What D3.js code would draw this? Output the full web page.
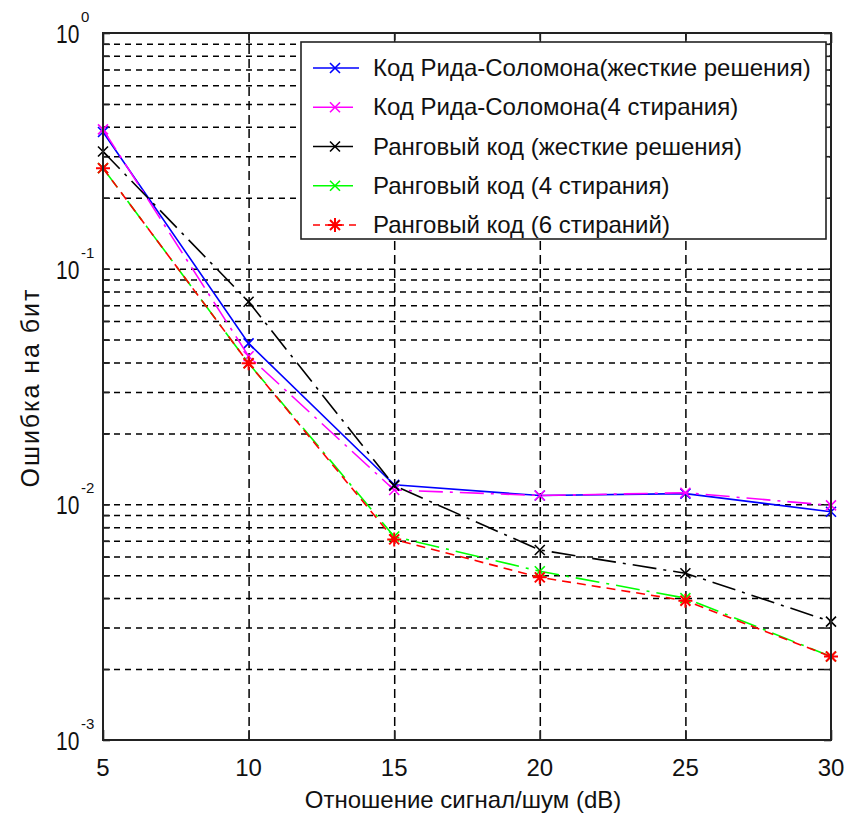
<!DOCTYPE html>
<html>
<head>
<meta charset="utf-8">
<script src="https://cdn.jsdelivr.net/npm/d3@7"></script>
<style>
  html, body { margin: 0; padding: 0; background: #fff; }
  svg { display: block; font-family: "Liberation Sans", Arial, sans-serif; }
</style>
</head>
<body>
<svg id="chart" width="852" height="817"></svg>
<script>
// SNR points (dB)
const snr = [5, 10, 15, 20, 25, 30];

// Bit error rate for each scheme
const rsHard   = [0.380, 0.0482, 0.0121, 0.0109, 0.0111, 0.0093];
const rsErase4 = [0.390, 0.0425, 0.0115, 0.0109, 0.0112, 0.0099];
const rankHard = [0.314, 0.0724, 0.0120, 0.0064, 0.0051, 0.00318];
const rankEr4  = [0.267, 0.0397, 0.0073, 0.0052, 0.0040, 0.00226];
const rankEr6  = [0.267, 0.0397, 0.0071, 0.0049, 0.0039, 0.00226];

const seriesNames = [
  "Код Рида-Соломона(жесткие решения)",
  "Код Рида-Соломона(4 стирания)",
  "Ранговый код (жесткие решения)",
  "Ранговый код (4 стирания)",
  "Ранговый код (6 стираний)"
];
const seriesValues = [rsHard, rsErase4, rankHard, rankEr4, rankEr6];
const seriesColors = ["#0000ff", "#ff00ff", "#000000", "#00ff00", "#ff0000"];
const seriesDash   = [null, "24,7,3,7", "24,7,3,7", "24,7,3,7", "9,6"];
const seriesMarker = ["x", "x", "x", "x", "star"];

const xTicks = [5, 10, 15, 20, 25, 30];
const yDecades = [0, -1, -2, -3];
const xLabel = "Отношение сигнал/шум (dB)";
const yLabel = "Ошибка на бит";

const svg = d3.select("#chart");
const L = 103, R = 831, T = 33, B = 740;

const x = d3.scaleLinear().domain([5, 30]).range([L, R]);
const y = d3.scaleLog().domain([1e-3, 1]).range([B, T]);

// grid values: 1..9 × each decade inside the axis
const yGrid = [];
for (let d = -3; d < 0; d++) for (let k = 1; k <= 9; k++) yGrid.push(k * Math.pow(10, d));
const yGridInner = yGrid.filter(v => v > 1.0001e-3 && v < 0.9999);
const xGridInner = xTicks.filter(v => v > 5 && v < 30);

const gridColor = "#000";
// horizontal grid
svg.append("g")
  .attr("transform", `translate(${L},0)`)
  .call(d3.axisLeft(y).tickValues(yGridInner).tickSize(-(R - L)).tickFormat(""))
  .call(g => g.select(".domain").remove())
  .call(g => g.selectAll("line").attr("stroke", gridColor).attr("stroke-width", 1.5).attr("stroke-dasharray", "6,5"));
// vertical grid
svg.append("g")
  .attr("transform", `translate(0,${B})`)
  .call(d3.axisBottom(x).tickValues(xGridInner).tickSize(-(B - T)).tickFormat(""))
  .call(g => g.select(".domain").remove())
  .call(g => g.selectAll("line").attr("stroke", gridColor).attr("stroke-width", 1.5).attr("stroke-dasharray", "9,5"));

// inward tick marks on all four sides
const tickStyle = g => {
  g.select(".domain").remove();
  g.selectAll("line").attr("stroke", "#222").attr("stroke-width", 1.6);
};
svg.append("g").attr("transform", `translate(${L},0)`)
  .call(d3.axisLeft(y).tickValues(yGrid.concat([1])).tickSize(-7).tickFormat("")).call(tickStyle);
svg.append("g").attr("transform", `translate(${R},0)`)
  .call(d3.axisRight(y).tickValues(yGrid.concat([1])).tickSize(-7).tickFormat("")).call(tickStyle);
svg.append("g").attr("transform", `translate(0,${B})`)
  .call(d3.axisBottom(x).tickValues(xTicks).tickSize(-10).tickFormat("")).call(tickStyle);
svg.append("g").attr("transform", `translate(0,${T})`)
  .call(d3.axisTop(x).tickValues(xTicks).tickSize(-10).tickFormat("")).call(tickStyle);

// x tick labels
svg.append("g").selectAll("text").data(xTicks).join("text")
  .attr("x", d => x(d)).attr("y", B + 36)
  .attr("text-anchor", "middle")
  .attr("font-size", 24).attr("fill", "#111")
  .text(d => d);

// y tick labels 10^n (tall, narrow digits)
const yLab = svg.append("g");
yLab.selectAll("text.base").data(yDecades).join("text")
  .attr("class", "base")
  .attr("transform", d => `translate(56,${y(Math.pow(10, d)) + 10}) scale(1,1.27)`)
  .attr("font-size", 21).attr("fill", "#111")
  .text("10");
yLab.selectAll("text.exp").data(yDecades).join("text")
  .attr("class", "exp")
  .attr("x", 81).attr("y", d => y(Math.pow(10, d)) - 11)
  .attr("font-size", 15).attr("fill", "#111")
  .text(d => d === 0 ? "0" : String(d));

// axis titles
svg.append("text")
  .attr("x", 463).attr("y", 808)
  .attr("text-anchor", "middle").attr("font-size", 24).attr("fill", "#111")
  .text(xLabel);
svg.append("text")
  .attr("transform", `translate(39,${(T + B) / 2 + 2}) rotate(-90)`)
  .attr("text-anchor", "middle").attr("font-size", 25).attr("fill", "#111")
  .attr("textLength", 198).attr("lengthAdjust", "spacing")
  .text(yLabel);

// marker path generators
function markerPath(type, cx, cy) {
  if (type === "star") {
    const r = 7, q = 5;
    return `M${cx - r},${cy}L${cx + r},${cy}M${cx},${cy - r}L${cx},${cy + r}` +
           `M${cx - q},${cy - q}L${cx + q},${cy + q}M${cx - q},${cy + q}L${cx + q},${cy - q}`;
  }
  const r = 5;
  return `M${cx - r},${cy - r}L${cx + r},${cy + r}M${cx - r},${cy + r}L${cx + r},${cy - r}`;
}

const line = d3.line().x((d, i) => x(snr[i])).y(d => y(d));

seriesValues.forEach((vals, s) => {
  const g = svg.append("g");
  g.append("path")
    .attr("d", line(vals))
    .attr("fill", "none")
    .attr("stroke", seriesColors[s])
    .attr("stroke-width", 1.6)
    .attr("stroke-dasharray", seriesDash[s]);
  g.selectAll("path.m").data(vals).join("path")
    .attr("class", "m")
    .attr("d", (d, i) => markerPath(seriesMarker[s], x(snr[i]), y(d)))
    .attr("stroke", seriesColors[s])
    .attr("stroke-width", seriesMarker[s] === "star" ? 2 : 1.6)
    .attr("fill", "none");
});

// axes frame
svg.append("rect")
  .attr("x", L).attr("y", T).attr("width", R - L).attr("height", B - T)
  .attr("fill", "none").attr("stroke", "#222").attr("stroke-width", 2);

// legend
const legX = 301, legY = 42, legW = 525, legH = 197;
const leg = svg.append("g");
leg.append("rect")
  .attr("x", legX).attr("y", legY).attr("width", legW).attr("height", legH)
  .attr("fill", "#fff").attr("stroke", "#222").attr("stroke-width", 1.6);
const rowY = d3.scaleLinear().domain([0, 4]).range([legY + 26, legY + 183]);
seriesNames.forEach((name, s) => {
  const cy = rowY(s);
  leg.append("line")
    .attr("x1", legX + 12).attr("x2", legX + 58).attr("y1", cy).attr("y2", cy)
    .attr("stroke", seriesColors[s]).attr("stroke-width", 1.6)
    .attr("stroke-dasharray", s === 4 ? "7,5" : (seriesDash[s] ? "40,8,2,8" : null));
  leg.append("path")
    .attr("d", markerPath(seriesMarker[s], legX + 34, cy))
    .attr("stroke", seriesColors[s]).attr("stroke-width", seriesMarker[s] === "star" ? 2 : 1.6)
    .attr("fill", "none");
  leg.append("text")
    .attr("x", legX + 72).attr("y", cy + 8)
    .attr("font-size", 24).attr("fill", "#111")
    .text(name);
});
</script>
</body>
</html>
